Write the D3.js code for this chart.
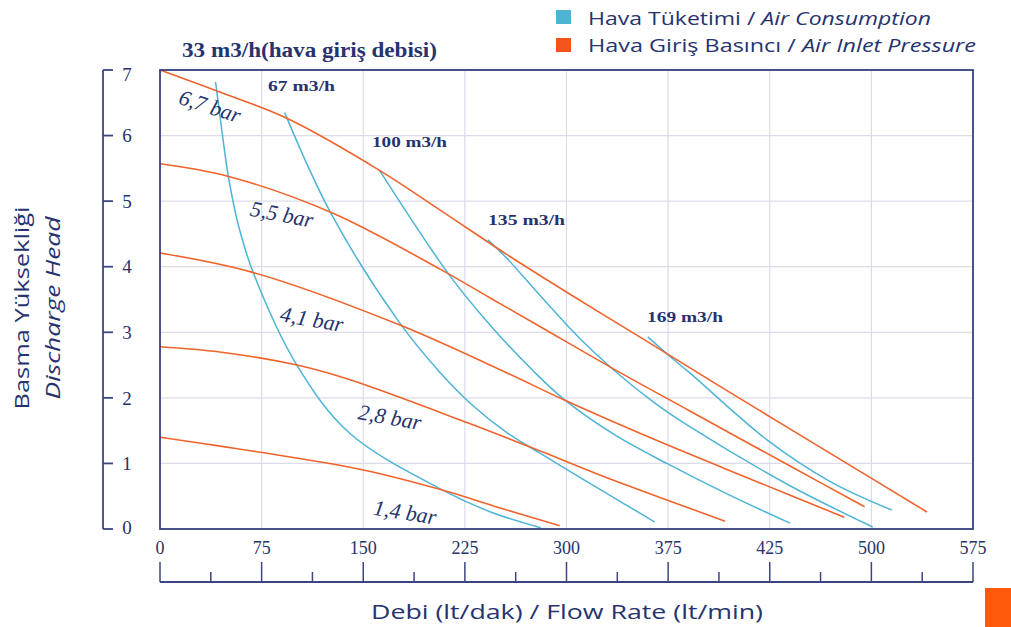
<!DOCTYPE html>
<html><head><meta charset="utf-8">
<script src="https://cdn.jsdelivr.net/npm/d3@7"></script>
<style>html,body{margin:0;padding:0;background:#fff;}svg{display:block;}</style>
</head><body>
<svg id="chart" width="1011" height="627"></svg>
<script>
// ---- data (x in lt/min on the uniform grid, y in bar head) ----
const xTickValues = [0, 75, 150, 225, 300, 375, 450, 525, 600];
const xTickLabels = ["0", "75", "150", "225", "300", "375", "425", "500", "575"];
const yTickValues = [0, 1, 2, 3, 4, 5, 6, 7];

const pressureNames = ["6,7 bar", "5,5 bar", "4,1 bar", "2,8 bar", "1,4 bar"];
const p67 = [[0,7.00],[42,6.68],[94,6.26],[162,5.47],[207,4.86],[255,4.20],[305,3.55],[354,2.93],[416,2.14],[495,1.15],[566,0.26]];
const p55 = [[0,5.57],[50,5.38],[126,4.83],[207,3.96],[244,3.52],[281,3.08],[334,2.45],[391,1.80],[465,0.96],[520,0.34]];
const p41 = [[0,4.21],[69,3.91],[177,3.11],[256,2.38],[298,1.97],[362,1.39],[436,0.76],[505,0.18]];
const p28 = [[0,2.78],[44,2.70],[101,2.50],[138,2.29],[227,1.62],[283,1.17],[325,0.82],[417,0.12]];
const p14 = [[0,1.40],[74,1.17],[150,0.90],[209,0.59],[251,0.32],[295,0.05]];

const airNames = ["33 m3/h", "67 m3/h", "100 m3/h", "135 m3/h", "169 m3/h"];
const a33 = [[41,6.82],[45.5,6.10],[50.5,5.37],[58,4.62],[69,3.90],[101,2.50],[140,1.46],[209,0.59],[244,0.26],[281,0.02]];
const a67 = [[92,6.35],[126,4.82],[177,3.14],[207,2.38],[231,1.88],[256,1.47],[281,1.15],[325,0.60],[365,0.11]];
const a100 = [[162,5.47],[214,3.86],[244,3.10],[275,2.42],[298,1.98],[336,1.43],[374,1.00],[420,0.52],[465,0.09]];
const a135 = [[242,4.41],[255,4.15],[281,3.55],[310,2.90],[334,2.44],[364,1.94],[391,1.56],[465,0.66],[526,0.03]];
const a169 = [[360,2.93],[377,2.62],[391,2.38],[448,1.36],[495,0.72],[540,0.29]];

const legendLabels = [["Hava Tüketimi / ", "Air Consumption"], ["Hava Giriş Basıncı / ", "Air Inlet Pressure"]];

// ---- drawing ----
const svg = d3.select("#chart");
const navy = "#26336e";
const orange = "#f0632c";
const blue = "#4db4d6";
const serif = "'Liberation Serif','Times New Roman',serif";
const sans = "'Open Sans','DejaVu Sans',sans-serif";

const x = d3.scaleLinear().domain([0, 600]).range([160, 973]);
const y = d3.scaleLinear().domain([0, 7]).range([529, 70]);

// grid
const g = svg.append("g");
g.selectAll("line.vg").data(xTickValues.slice(1, -1)).join("line")
  .attr("x1", d => x(d)).attr("x2", d => x(d)).attr("y1", y(7)).attr("y2", y(0))
  .attr("stroke", "#dcdcea").attr("stroke-width", 1.2);
g.selectAll("line.hg").data(yTickValues.slice(1, -1)).join("line")
  .attr("x1", x(0)).attr("x2", x(600)).attr("y1", d => y(d)).attr("y2", d => y(d))
  .attr("stroke", "#dcdcea").attr("stroke-width", 1.2);

// curves
const line = d3.line().x(d => x(d[0])).y(d => y(d[1])).curve(d3.curveCatmullRom.alpha(0.5));
const pressures = [p67, p55, p41, p28, p14];
const airs = [a33, a67, a100, a135, a169];
svg.append("g").selectAll("path").data(airs).join("path")
  .attr("d", line).attr("fill", "none").attr("stroke", blue).attr("stroke-width", 1.5);
svg.append("g").selectAll("path").data(pressures).join("path")
  .attr("d", line).attr("fill", "none").attr("stroke", orange).attr("stroke-width", 1.6);

// frame
svg.append("rect").attr("x", x(0)).attr("y", y(7)).attr("width", x(600) - x(0)).attr("height", y(0) - y(7))
  .attr("fill", "none").attr("stroke", "#34407e").attr("stroke-width", 1.8);

// y axis (bracket)
const yAx = svg.append("g").attr("transform", "translate(103,0)");
yAx.append("line").attr("x1", 0).attr("x2", 0).attr("y1", y(7)).attr("y2", y(0)).attr("stroke", "#3b4680").attr("stroke-width", 1.8);
yAx.selectAll("line.t").data(yTickValues).join("line")
  .attr("x1", 0).attr("x2", 10).attr("y1", d => y(d)).attr("y2", d => y(d))
  .attr("stroke", "#3b4680").attr("stroke-width", 1.8);
yAx.selectAll("text").data(yTickValues).join("text")
  .attr("x", 24).attr("y", d => y(d) + (d === 7 ? 4 : d === 0 ? -2 : 0)).attr("dy", "0.35em")
  .attr("text-anchor", "middle").attr("font-family", serif).attr("font-size", 19).attr("fill", navy)
  .text(d => d);

// x tick labels
svg.append("g").selectAll("text").data(xTickValues).join("text")
  .attr("x", d => x(d)).attr("y", 554).attr("text-anchor", "middle")
  .attr("font-family", serif).attr("font-size", 18).attr("fill", navy)
  .text((d, i) => xTickLabels[i]);

// lower ruler axis
const rul = svg.append("g");
rul.append("line").attr("x1", x(0)).attr("x2", x(600)).attr("y1", 582).attr("y2", 582).attr("stroke", "#3b4680").attr("stroke-width", 1.8);
rul.selectAll("line.maj").data(xTickValues).join("line")
  .attr("x1", d => x(d)).attr("x2", d => x(d)).attr("y1", 562).attr("y2", 582)
  .attr("stroke", "#3b4680").attr("stroke-width", 1.5);
rul.selectAll("line.min").data(xTickValues.slice(0, -1).map(v => v + 37.5)).join("line")
  .attr("x1", d => x(d)).attr("x2", d => x(d)).attr("y1", 572).attr("y2", 582)
  .attr("stroke", "#3b4680").attr("stroke-width", 1.5);

// axis titles
svg.append("text").attr("x", 567).attr("y", 619).attr("text-anchor", "middle")
  .attr("font-family", sans).attr("font-size", 20).attr("fill", navy)
  .attr("textLength", 392).attr("lengthAdjust", "spacingAndGlyphs")
  .text("Debi (lt/dak) / Flow Rate (lt/min)");
svg.append("text").attr("transform", "translate(29,308) rotate(-90)").attr("text-anchor", "middle")
  .attr("font-family", sans).attr("font-size", 20).attr("fill", navy)
  .attr("textLength", 203).attr("lengthAdjust", "spacingAndGlyphs")
  .text("Basma Yüksekliği");
svg.append("text").attr("transform", "translate(60,308) rotate(-90)").attr("text-anchor", "middle")
  .attr("font-family", sans).attr("font-size", 20).attr("font-style", "italic").attr("fill", navy)
  .attr("textLength", 183).attr("lengthAdjust", "spacingAndGlyphs")
  .text("Discharge Head");

// legend
const leg = svg.append("g");
[[blue, 10, 25, 343], ["#f4531c", 38, 52, 388]].forEach((c, i) => {
  leg.append("rect").attr("x", 556).attr("y", c[1]).attr("width", 15).attr("height", 14).attr("fill", c[0]);
  const t = leg.append("text").attr("x", 588).attr("y", c[2]).attr("font-family", sans).attr("font-size", 19)
    .attr("fill", navy).attr("textLength", c[3]).attr("lengthAdjust", "spacingAndGlyphs");
  t.append("tspan").text(legendLabels[i][0]);
  t.append("tspan").attr("font-style", "italic").text(legendLabels[i][1]);
});

// air flow labels
const topLabel = svg.append("text").attr("x", 182).attr("y", 57).attr("font-family", serif).attr("font-weight", "bold")
  .attr("font-size", 20).attr("fill", navy).attr("textLength", 255).attr("lengthAdjust", "spacingAndGlyphs");
topLabel.append("tspan").text(airNames[0]);
topLabel.append("tspan").text("(hava giriş debisi)");
const airLab = [[268, 91, 67], [372, 147, 75], [488, 225, 77], [647, 322, 76]];
airLab.forEach((p, i) => {
  svg.append("text").attr("x", p[0]).attr("y", p[1]).attr("font-family", serif).attr("font-weight", "bold")
    .attr("font-size", 15).attr("fill", navy).attr("textLength", p[2]).attr("lengthAdjust", "spacingAndGlyphs")
    .text(airNames[i + 1]);
});

// pressure labels
const presLab = [[210, 106, 18], [282, 214, 11], [312, 319, 10], [390, 417, 10], [405, 512, 9]];
presLab.forEach((p, i) => {
  svg.append("text").attr("transform", `translate(${p[0]},${p[1]}) rotate(${p[2]})`)
    .attr("text-anchor", "middle").attr("dy", "0.35em")
    .attr("font-family", serif).attr("font-style", "italic").attr("font-size", 22).attr("fill", navy)
    .text(pressureNames[i]);
});

// corner tab
svg.append("rect").attr("x", 985).attr("y", 588).attr("width", 26).attr("height", 39).attr("fill", "#ff5a0c");
</script>
</body></html>
